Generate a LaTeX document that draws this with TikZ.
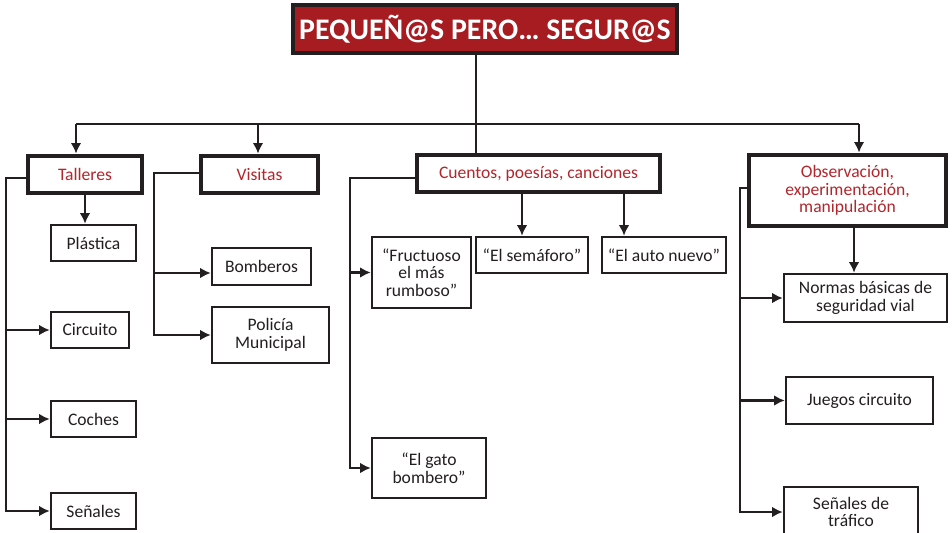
\documentclass[tikz,border=0pt]{standalone}
\usepackage{fontspec}
\setmainfont{Carlito}
\usetikzlibrary{arrows.meta,calc}
\definecolor{titlered}{HTML}{A61C21}
\definecolor{catred}{HTML}{B3262C}
\definecolor{ink}{HTML}{231F20}

\begin{document}
\begin{tikzpicture}[
		x=0.02cm, y=-0.02cm,
		>={Latex[length=6pt,width=6pt]},
		sz/.style 2 args={minimum width=#1*0.02cm, minimum height=#2*0.02cm},
		titlebox/.style={draw=ink, line width=1.8pt, fill=titlered, text=white, inner sep=0pt, font=\bfseries\fontsize{17}{20}\selectfont},
		catbox/.style={draw=ink, line width=2.7pt, fill=white, text=catred, align=center, inner sep=0pt, font=\fontsize{10}{10}\selectfont},
		itembox/.style={draw=ink, line width=1.4pt, fill=white, text=ink, align=center, inner sep=0pt, font=\fontsize{10}{10}\selectfont},
		link/.style={draw=ink, line width=1.5pt}
		]
		
		\useasboundingbox (0,0) rectangle (952,533);
		
		\node[titlebox, sz={384}{48}] (title) at (485,29) {PEQUEÑ@S PERO… SEGUR@S};
		
		% Categories
		\node[catbox, sz={114}{37}] (talleres) at (85,174.5) {Talleres};
		\node[catbox, sz={117}{37}] (visitas) at (259.5,174.5) {Visitas};
		\node[catbox, sz={243}{37}] (cuentos) at (538.5,173.5) {Cuentos, poesías, canciones};
		\node[catbox, sz={197}{71}] (observa) at (847.5,190.5) {Observación,\\experimentación,\\manipulación};
		
		% Talleres column
		\node[itembox, sz={85}{36}] (plastica) at (93.5,243) {Plástica};
		\node[itembox, sz={78}{36}] (circuito) at (90,330) {Circuito};
		\node[itembox, sz={85}{36}] (coches) at (93.5,419) {Coches};
		\node[itembox, sz={85}{36}] (senales) at (93.5,511) {Señales};
		
		% Visitas column
		\node[itembox, sz={99}{37}] (bomberos) at (261.5,266.5) {Bomberos};
		\node[itembox, sz={117}{56}] (policia) at (270.5,335) {Policía\\Municipal};
		
		% Cuentos column
		\node[itembox, sz={99}{71}] (fructuoso) at (421.5,272.5) {“Fructuoso\\el más\\rumboso”};
		\node[itembox, sz={112}{36}] (semaforo) at (532,255) {“El semáforo”};
		\node[itembox, sz={124}{36}] (autonuevo) at (664,255) {“El auto nuevo”};
		\node[itembox, sz={114}{60}] (gato) at (429,468) {“El gato\\bombero”};
		
		% Observacion column
		\node[itembox, sz={163}{48}] (normas) at (865.5,298) {Normas básicas de\\seguridad vial};
		\node[itembox, sz={147}{47}] (juegos) at (859.5,400.5) {Juegos circuito};
		\node[itembox, sz={134}{50}] (senalestraf) at (851,512) {Señales de\\tráfico};
		
		% Bus coordinates
		\coordinate (hub) at (476,124);
		\coordinate (busL) at (76,124);
		\coordinate (busV) at (258,124);
		\coordinate (busR) at (859,124);
		\coordinate (tbus) at (6,178);
		\coordinate (vbus) at (154,173);
		\coordinate (cbus) at (350,178);
		\coordinate (obus) at (740,188);
		\coordinate (cS) at (522,0);
		\coordinate (cA) at (624,0);
		\coordinate (oN) at (854,0);
		
		% Arrows
		\draw[link] (title.south -| hub) -- (hub |- cuentos.north);
		\draw[link] (busL) -- (busR);
		\draw[link,->] (busL) -- (busL |- talleres.north);
		\draw[link,->] (busV) -- (busV |- visitas.north);
		\draw[link,->] (busR) -- (busR |- observa.north);
		
		\draw[link,->] (talleres.south) -- (talleres.south |- plastica.north);
		\foreach \c in {circuito,coches,senales}
			\draw[link,->] (talleres.west |- tbus) -- (tbus) |- (\c.west);
		
		\draw[link,->] (visitas.west |- vbus) -- (vbus) |- ($(bomberos.west)+(0,6.5)$);
		\draw[link,->] (visitas.west |- vbus) -- (vbus) |- (policia.west);
		
		\draw[link,->] (cuentos.south -| cS) -- (cS |- semaforo.north);
		\draw[link,->] (cuentos.south -| cA) -- (cA |- autonuevo.north);
		\foreach \c in {fructuoso,gato}
			\draw[link,->] (cuentos.west |- cbus) -- (cbus) |- (\c.west);
		
		\draw[link,->] (observa.south -| oN) -- (oN |- normas.north);
		\foreach \c in {normas,juegos,senalestraf}
			\draw[link,->] (observa.west |- obus) -- (obus) |- (\c.west);
		
	\end{tikzpicture}
\end{document}
